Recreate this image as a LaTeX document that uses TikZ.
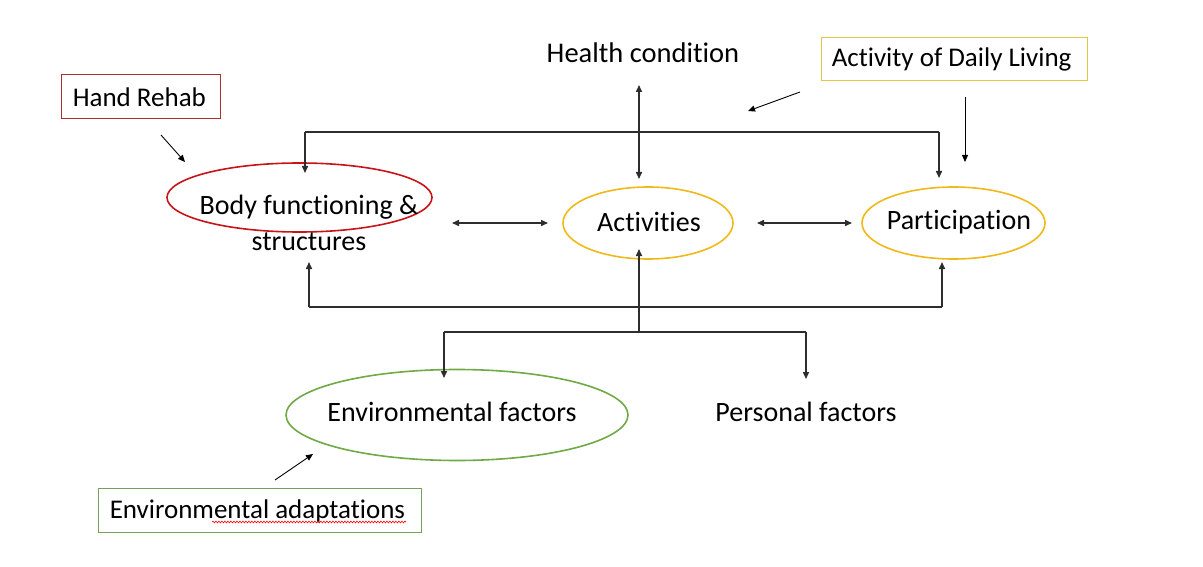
\documentclass[tikz,border=0pt]{standalone}
\usepackage{fontspec}
\setmainfont{Carlito}[Ligatures={NoCommon}]
\usetikzlibrary{arrows.meta,shapes.geometric,decorations.pathmorphing}
\definecolor{linegray}{RGB}{45,45,45}
\definecolor{ellred}{RGB}{200,20,25}
\definecolor{boxred}{RGB}{175,45,45}
\definecolor{ellgold}{RGB}{240,185,25}
\definecolor{boxgold}{RGB}{225,200,70}
\definecolor{ellgreen}{RGB}{112,170,70}
\definecolor{boxgreen}{RGB}{120,160,90}
\begin{document}
\begin{tikzpicture}[x=1pt,y=-1pt,
  conn/.style={draw=linegray, line width=1.5pt},
  oneway/.style={conn, -{Triangle[length=7pt,width=6pt]}},
  twoway/.style={conn, {Triangle[length=7pt,width=6pt]}-{Triangle[length=7pt,width=6pt]}},
  pointer/.style={draw=black, line width=0.9pt, -{Triangle[length=7pt,width=6pt]}},
  mainfont/.style={font=\fontsize{28}{36}\selectfont},
  labelfont/.style={font=\fontsize{27}{30}\selectfont},
  ell/.style={ellipse, inner sep=0pt, line width=1.6pt},
  labelbox/.style={rectangle, inner sep=0pt, line width=0.9pt},
  labeltext/.style={labelfont, anchor=west, inner sep=0pt}
]
\useasboundingbox (0,0) rectangle (1203,567);
\fill[white] (0,0) rectangle (1203,567);

% ellipses
\node[ell, draw=ellred, minimum width=265pt, minimum height=69pt] (bodyE) at (299.5,197.5) {};
\node[ell, draw=ellgold, minimum width=170pt, minimum height=72pt] (actE) at (648,223) {};
\node[ell, draw=ellgold, minimum width=183pt, minimum height=72pt] (partE) at (953.5,223) {};
\node[ell, draw=ellgreen, minimum width=342pt, minimum height=91pt] (envE) at (457,415) {};

% main texts
\node[mainfont, font=\fontsize{28.5}{36}\selectfont] (health) at (643,53) {Health condition};
\node[mainfont, align=center, inner sep=0pt] (body) at (309,223) {Body functioning \&\\structures};
\node[mainfont] (act) at (649,222) {Activities};
\node[mainfont] (part) at (959,222) {Participation};
\node[mainfont] (env) at (452,412) {Environmental factors};
\node[mainfont] (pers) at (806,412) {Personal factors};

% label boxes
\node[labelbox, draw=boxred, minimum width=159pt, minimum height=44pt] (rehab) at (140.5,96) {};
\node[labeltext] (rehabT) at ([xshift=12pt,yshift=-1pt]rehab.west) {Hand Rehab};
\node[labelbox, draw=boxgold, minimum width=266pt, minimum height=43pt] (adl) at (954,58.5) {};
\node[labeltext] (adlT) at ([xshift=11pt,yshift=-0.5pt]adl.west) {Activity of Daily Living};
\node[labelbox, draw=boxgreen, minimum width=323pt, minimum height=44pt] (adapt) at (259.5,510) {};
\node[labeltext] (adaptT) at ([xshift=12pt,yshift=-1pt]adapt.west) {Environmental adaptations};
\draw[red, line width=0.6pt, decorate, decoration={snake, amplitude=0.9pt, segment length=3pt}] (212,522) -- (406,522);

% coordinates of connectors
\coordinate (hcTop) at (639,85);
\coordinate (hcBot) at (639,179);
\coordinate (topL) at (305,132);
\coordinate (topR) at (939,132);
\coordinate (topLend) at (305,173);
\coordinate (topRend) at (939,178);
\coordinate (baL) at (452,223);
\coordinate (baR) at (548,223);
\coordinate (apL) at (757,223);
\coordinate (apR) at (852,223);
\coordinate (botL) at (309,307);
\coordinate (botR) at (942,307);
\coordinate (botLend) at (309,262);
\coordinate (botRend) at (942,262);
\coordinate (actStem) at (639,332);
\coordinate (actEnd) at (639,249);
\coordinate (lowL) at (444,332);
\coordinate (lowR) at (806,332);
\coordinate (lowLend) at (444,378);
\coordinate (lowRend) at (806,379);

% connectors
\draw[twoway] (hcTop) -- (hcBot);
\draw[conn] (topL) -- (topR);
\draw[oneway] (topL) -- (topLend);
\draw[oneway] (topR) -- (topRend);
\draw[twoway] (baL) -- (baR);
\draw[twoway] (apL) -- (apR);
\draw[conn] (botL) -- (botR);
\draw[oneway] (botL) -- (botLend);
\draw[oneway] (botR) -- (botRend);
\draw[oneway] (actStem) -- (actEnd);
\draw[conn] (lowL) -- (lowR);
\draw[oneway] (lowL) -- (lowLend);
\draw[oneway] (lowR) -- (lowRend);

% pointers from labels
\coordinate (rehabP1) at (161,135);
\coordinate (rehabP2) at (185,162);
\coordinate (adlP1) at (800,92);
\coordinate (adlP2) at (748,111);
\coordinate (adlV1) at (965,97);
\coordinate (adlV2) at (965,162);
\coordinate (envP1) at (275,480);
\coordinate (envP2) at (313,454);
\draw[pointer] (rehabP1) -- (rehabP2);
\draw[pointer] (adlP1) -- (adlP2);
\draw[pointer] (adlV1) -- (adlV2);
\draw[pointer] (envP1) -- (envP2);
\end{tikzpicture}
\end{document}
